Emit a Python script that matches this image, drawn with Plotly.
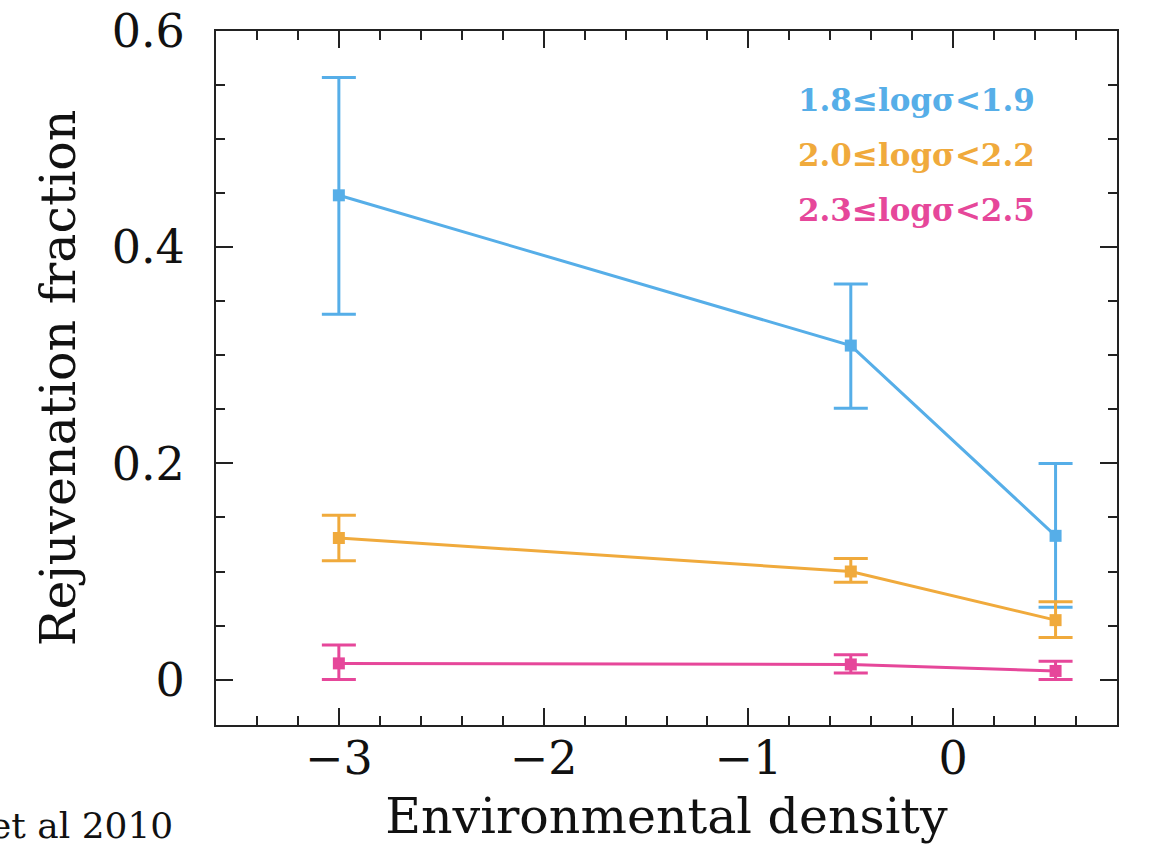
import plotly.graph_objects as go

# Environmental density bins
density = [-3.0, -0.5, 0.5]

# Rejuvenation fraction per velocity-dispersion bin, with asymmetric errors
low_sigma = [0.448, 0.309, 0.133]
low_sigma_up = [0.109, 0.057, 0.067]
low_sigma_down = [0.110, 0.058, 0.066]

mid_sigma = [0.131, 0.100, 0.055]
mid_sigma_up = [0.021, 0.012, 0.017]
mid_sigma_down = [0.021, 0.010, 0.016]

high_sigma = [0.015, 0.014, 0.008]
high_sigma_up = [0.017, 0.009, 0.009]
high_sigma_down = [0.015, 0.008, 0.008]

labels = ["1.8≤logσ<1.9", "2.0≤logσ<2.2", "2.3≤logσ<2.5"]
colors = ["#56aee8", "#f0aa3c", "#e6479a"]

series = [
    (low_sigma, low_sigma_up, low_sigma_down),
    (mid_sigma, mid_sigma_up, mid_sigma_down),
    (high_sigma, high_sigma_up, high_sigma_down),
]

FONT = "DejaVu Serif"

fig = go.Figure()
for (vals, up, down), name, col in zip(series, labels, colors):
    fig.add_trace(go.Scatter(
        x=density, y=vals, mode="lines+markers", name=name,
        line=dict(color=col, width=3),
        marker=dict(symbol="square", size=12, color=col),
        error_y=dict(type="data", symmetric=False, array=up, arrayminus=down,
                     color=col, thickness=3, width=17),
        showlegend=False,
    ))

# Colour-coded key in the upper right
for i, (name, col) in enumerate(zip(labels, colors)):
    fig.add_annotation(
        text=f"<b>{name}</b>", xref="paper", yref="paper",
        x=0.911, y=0.900 - i * 0.079, xanchor="right", yanchor="middle",
        showarrow=False, font=dict(family=FONT, size=31, color=col),
    )

# Citation fragment at the lower left
fig.add_annotation(
    text="et al 2010", xref="paper", yref="paper",
    x=-0.045, y=-0.145, xanchor="right", yanchor="middle",
    showarrow=False, font=dict(family=FONT, size=36, color="#111111"),
)

axis_common = dict(
    showline=True, linecolor="#222222", linewidth=2,
    mirror="allticks", ticks="inside", tickwidth=2, tickcolor="#222222",
    showgrid=False, zeroline=False,
    tickfont=dict(family=FONT, size=46, color="#111111"),
)

fig.update_xaxes(
    range=[-3.6, 0.8], tickmode="array", tickvals=[-3, -2, -1, 0],
    ticktext=["−3", "−2", "−1", "0"], ticklen=17,
    minor=dict(dtick=0.2, tick0=0, ticks="inside", ticklen=9, tickwidth=2,
               tickcolor="#222222", showgrid=False),
    title=dict(text="Environmental density", standoff=14,
               font=dict(family=FONT, size=49, color="#111111")),
    ticklabelstandoff=-8, automargin="bottom",
    **axis_common,
)
fig.update_yaxes(
    range=[-0.042, 0.6], tickmode="array", tickvals=[0, 0.2, 0.4, 0.6],
    ticktext=["0", "0.2", "0.4", "0.6"], ticklen=17,
    minor=dict(dtick=0.05, tick0=0, ticks="inside", ticklen=9, tickwidth=2,
               tickcolor="#222222", showgrid=False),
    title=dict(text="Rejuvenation fraction", standoff=20,
               font=dict(family=FONT, size=49, color="#111111")),
    ticklabelstandoff=20, automargin="left",
    **axis_common,
)

fig.update_layout(
    width=1149, height=850,
    margin=dict(l=216, r=32, t=31, b=125),
    paper_bgcolor="white", plot_bgcolor="white",
)

fig.write_html("out.html")
